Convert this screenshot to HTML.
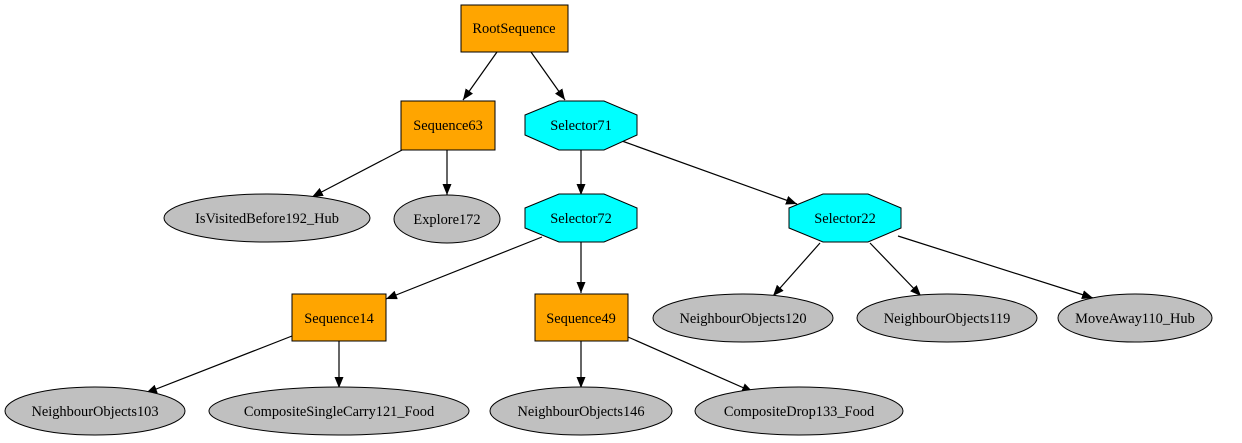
<!DOCTYPE html>
<html><head><style>body{margin:0;background:#fff}svg{display:block}text{font-family:"Liberation Serif",serif;font-size:14.4px;text-anchor:middle;dominant-baseline:central}</style></head><body>
<svg width="1242" height="443" viewBox="0 0 1242 443">
<defs><marker id="a" markerWidth="11" markerHeight="9" refX="11" refY="4.5" orient="auto" markerUnits="userSpaceOnUse"><path d="M0,0 L11,4.5 L0,9 Z" fill="#000"/></marker></defs>
<g stroke="#000" stroke-width="1.2" marker-end="url(#a)">
<line x1="497" y1="52" x2="463" y2="100"/>
<line x1="531" y1="52" x2="565" y2="100"/>
<line x1="404" y1="149" x2="312" y2="197"/>
<line x1="447" y1="150" x2="447" y2="195"/>
<line x1="581" y1="150" x2="581" y2="195"/>
<line x1="622" y1="141" x2="797" y2="204"/>
<line x1="542" y1="237" x2="386" y2="299"/>
<line x1="581" y1="242" x2="581" y2="293"/>
<line x1="820" y1="243" x2="773" y2="296"/>
<line x1="870" y1="243" x2="921" y2="296"/>
<line x1="898" y1="236" x2="1093" y2="298"/>
<line x1="292" y1="336" x2="146" y2="393"/>
<line x1="339" y1="341" x2="339" y2="388"/>
<line x1="581" y1="341" x2="581" y2="388"/>
<line x1="628" y1="337" x2="753" y2="392"/>
</g>
<g stroke="#000" stroke-width="1">
<rect x="461" y="5" width="107" height="47" fill="#ffa500"/>
<rect x="401" y="101" width="94" height="49" fill="#ffa500"/>
<rect x="292" y="294" width="94" height="47" fill="#ffa500"/>
<rect x="535" y="294" width="93" height="47" fill="#ffa500"/>
<polygon points="559,101 604,101 637,115 637,135 604,150 559,150 525,135 525,115" fill="#00ffff"/>
<polygon points="559,194 604,194 637,208 637,228 604,242 559,242 525,228 525,208" fill="#00ffff"/>
<polygon points="823,194 868,194 901,208 901,228 868,242 823,242 789,228 789,208" fill="#00ffff"/>
<g fill="#c0c0c0">
<ellipse cx="267" cy="218" rx="103" ry="24"/>
<ellipse cx="447" cy="219" rx="53" ry="24"/>
<ellipse cx="743" cy="318" rx="90" ry="24"/>
<ellipse cx="947" cy="318" rx="90" ry="24"/>
<ellipse cx="1135" cy="318" rx="77" ry="24"/>
<ellipse cx="95" cy="411" rx="90" ry="24"/>
<ellipse cx="339" cy="411" rx="130" ry="24"/>
<ellipse cx="581" cy="411" rx="91" ry="24"/>
<ellipse cx="799" cy="411" rx="104" ry="24"/>
</g></g>
<text x="514" y="29">RootSequence</text>
<text x="448" y="126">Sequence63</text>
<text x="581" y="126">Selector71</text>
<text x="267" y="219">IsVisitedBefore192_Hub</text>
<text x="447" y="220">Explore172</text>
<text x="581" y="219">Selector72</text>
<text x="845" y="219">Selector22</text>
<text x="339" y="319">Sequence14</text>
<text x="581" y="319">Sequence49</text>
<text x="743" y="319">NeighbourObjects120</text>
<text x="947" y="319">NeighbourObjects119</text>
<text x="1135" y="319">MoveAway110_Hub</text>
<text x="95" y="412">NeighbourObjects103</text>
<text x="339" y="412">CompositeSingleCarry121_Food</text>
<text x="581" y="412">NeighbourObjects146</text>
<text x="799" y="412">CompositeDrop133_Food</text>
</svg></body></html>
